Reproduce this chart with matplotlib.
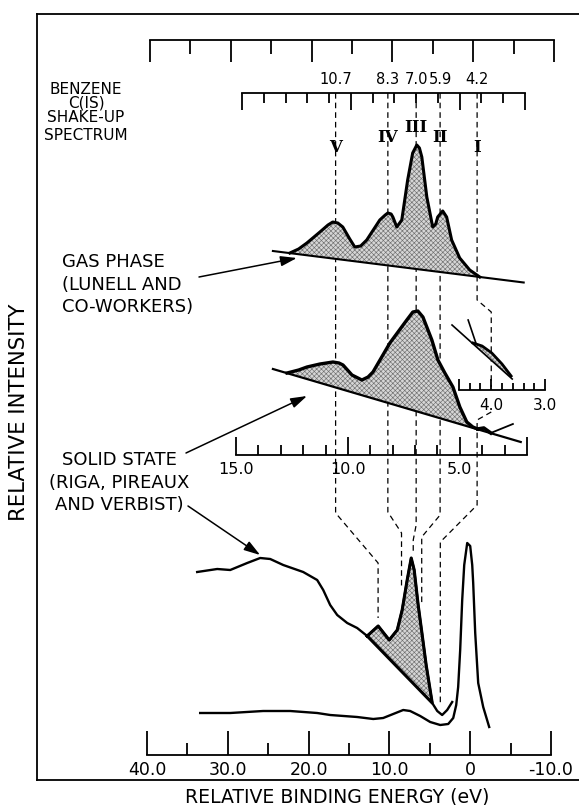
"""Benzene C(1s) shake-up spectrum: gas phase vs solid state (schematic redraw)."""

import matplotlib

matplotlib.use("Agg")

import matplotlib.pyplot as plt
import numpy as np

W, H = 579, 805

# shake-up satellites (eV)
FEATURE_EV = [10.7, 8.3, 7.0, 5.9, 4.2]
FEATURE_LABELS = ["10.7", "8.3", "7.0", "5.9", "4.2"]
FEATURE_NUMERALS = ["V", "IV", "III", "II", "I"]
# where each satellite lands on the solid-state survey spectrum (eV)
BULK_MARK_EV = [11.4, 8.5, 7.05, 6.0, 3.7]

# gas phase (Lunell and co-workers)
GAS_EV = [12.80, 12.40, 12.02, 11.42, 11.05, 10.83, 10.60, 10.37, 10.05, 9.82, 9.55, 9.27,
          8.67, 8.42, 8.30, 8.15, 8.07, 7.89, 7.66, 7.39, 7.16, 6.97, 6.85, 6.74, 6.51,
          6.24, 6.10, 6.01, 5.78, 5.60, 5.37, 5.00, 4.54, 4.08]
GAS_INT = [47, 51, 57, 68, 75, 78, 77, 73, 61, 53, 54, 60,
           80, 85, 87, 86, 83, 73, 80, 120, 147, 155, 152, 143, 103,
           73, 76, 83, 89, 83, 60, 42, 30, 23]
GAS_BASE_EV = [13.58, 2.06]
GAS_BASE_INT = [49, 17.5]

# solid state shake-up (Riga, Pireaux and Verbist)
SOLID_EV = [12.72, 12.20, 11.83, 11.25, 10.67, 10.40, 10.22, 9.82, 9.375, 9.10, 8.88, 8.125,
            7.37, 7.10, 6.875, 6.65, 6.25, 5.98, 5.67, 5.31, 5.00, 4.69, 4.42, 4.20]
SOLID_INT = [82, 85, 88, 91, 93, 92, 90, 80, 75, 78, 83, 112,
             135, 143, 144, 138, 115, 95, 82, 68, 48, 33, 28, 26]
SOLID_BASE_EV = [13.35, 2.28]
SOLID_BASE_INT = [86, 13]
SOLID_TAIL_EV = [4.20, 3.93, 3.62, 2.63]
SOLID_TAIL_INT = [26, 27, 22, 31]

# magnified region near 4 eV
INSET_BASE_EV = [4.73, 3.61]
INSET_BASE_INT = [65, 11]
INSET_STEEP_EV = [4.43, 4.28]
INSET_STEEP_INT = [70, 46]
INSET_PEAK_EV = [4.34, 4.17, 3.99, 3.80, 3.63]
INSET_PEAK_INT = [47, 44, 37, 26, 14]
INSET_PEAK_BASE_EV = [3.63, 4.34]
INSET_PEAK_BASE_INT = [12, 46]

# solid state survey spectrum, upper trace
BULK_EV = [33.79, 31.31, 29.70, 27.60, 25.99, 24.75, 23.14, 20.67, 18.94, 18.19, 17.33, 16.46,
           15.22, 13.99, 12.75, 11.39, 10.02, 9.03, 8.42, 7.80, 7.30, 6.93, 6.44, 5.94,
           5.45, 4.70, 4.08, 3.47, 2.85, 2.23]
BULK_INT = [183, 186, 185, 192, 197, 196, 190, 183, 175, 165, 150, 140,
            132, 127, 119, 129, 115, 125, 145, 175, 197, 185, 150, 120,
            90, 52, 44, 40, 45, 53]
BULK_SHADE = (14, 25)  # index range of the shaded shake-up part

# lower trace with the C(1s) main line
BULK_LOW_EV = [33.42, 29.70, 25.62, 22.28, 18.94, 17.33, 13.99, 12.00, 10.77, 9.53, 8.29, 7.43,
               6.19, 4.95, 3.71, 2.72, 2.10, 1.73, 1.49, 1.24, 0.99, 0.74, 0.37, 0.0,
               -0.25, -0.37, -0.62, -0.99, -1.61, -2.35]
BULK_LOW_INT = [42, 42, 44, 44, 42, 40, 38, 36, 37, 41, 45, 44,
                39, 33, 30, 31, 37, 50, 68, 105, 155, 190, 212, 209,
                190, 172, 122, 72, 48, 28]

TOP_SCALE = np.arange(0, 11)

plt.rcParams["font.family"] = ["DejaVu Sans"]
plt.rcParams["hatch.linewidth"] = 0.45
plt.rcParams["hatch.color"] = "#707070"

LW = 1.3
SHADE = dict(facecolor="#d6d6d6", hatch="xxxxxxx", edgecolor="#707070", linewidth=0, zorder=2)
DASH = dict(color="black", lw=0.9, linestyle=(0, (4.5, 3.2)), zorder=1)

fig = plt.figure(figsize=(W / 100, H / 100), dpi=100)


def box(x0, y0, x1, y1):
    return [x0 / W, 1 - y1 / H, (x1 - x0) / W, (y1 - y0) / H]


def scale_axes(rect, side, lim, ylim=(0, 1), z=3):
    ax = fig.add_axes(rect, zorder=z)
    ax.set_facecolor("none")
    for name, sp in ax.spines.items():
        sp.set_visible(name == side)
        sp.set_linewidth(LW)
    ax.set_xlim(*lim)
    ax.set_ylim(*ylim)
    ax.yaxis.set_visible(False)
    if side == "top":
        ax.xaxis.tick_top()
    ax.tick_params(axis="x", which="both", direction="in", width=LW)
    return ax


# overlay in pixel space for connectors and labels
ov = fig.add_axes([0, 0, 1, 1], zorder=0)
ov.set_xlim(0, W)
ov.set_ylim(H, 0)
ov.axis("off")


def xpx(ax, x):
    return ov.transData.inverted().transform(ax.transData.transform((x, 0)))[0]


def to_ov(ax, x, y):
    return ov.transData.inverted().transform(ax.transData.transform((x, y)))


frame = fig.add_axes(box(37, 14, 660, 780), zorder=1)
frame.set_facecolor("none")
frame.set_xticks([])
frame.set_yticks([])
for sp in frame.spines.values():
    sp.set_linewidth(LW)

# top unlabelled scale
top = scale_axes(box(150, 40, 554, 80), "top", (TOP_SCALE[0], TOP_SCALE[-1]))
top.set_xticks(TOP_SCALE[::2], [""] * len(TOP_SCALE[::2]))
top.set_xticks(TOP_SCALE[1::2], minor=True)
top.tick_params(axis="x", which="major", length=16)
top.tick_params(axis="x", which="minor", length=10)

# gas phase panel with the labelled scale on top
gas = scale_axes(box(242, 93, 525, 300), "top", (15, 2), (0, 207))
gas.set_xticks([15, 10, 5, 2], [""] * 4)
gas.set_xticks(np.arange(2, 16), minor=True)
gas.tick_params(axis="x", which="major", length=12)
gas.tick_params(axis="x", which="minor", length=7)
sec = gas.secondary_xaxis("top")
sec.set_xticks(FEATURE_EV, FEATURE_LABELS)
sec.tick_params(length=0, pad=4, labelsize=10.5)
sec.spines["top"].set_visible(False)
gas.fill(GAS_EV, GAS_INT, **SHADE)
gas.plot(GAS_EV, GAS_INT, color="black", lw=2.2, solid_joinstyle="round", zorder=4, clip_on=False)
gas.plot(GAS_BASE_EV, GAS_BASE_INT, color="black", lw=1.5, zorder=4, clip_on=False)
for ev, num, py in zip(FEATURE_EV, FEATURE_NUMERALS, [147, 137, 127, 137, 147]):
    gas.text(ev, 300 - py, num, ha="center", va="center", fontsize=12, fontweight="bold",
             family="DejaVu Serif", zorder=5)

# solid state shake-up panel
solid = scale_axes(box(236, 300, 527, 455), "bottom", (15, 2), (0, 155))
solid.set_xticks([15, 10, 5, 2], ["15.0", "10.0", "5.0", ""])
solid.set_xticks(np.arange(2, 16), minor=True)
solid.tick_params(axis="x", which="major", length=13, pad=5, labelsize=11.5)
solid.tick_params(axis="x", which="minor", length=7)
solid.fill(SOLID_EV, SOLID_INT, **SHADE)
solid.plot(SOLID_EV, SOLID_INT, color="black", lw=2.4, solid_joinstyle="round", zorder=4, clip_on=False)
solid.plot(SOLID_BASE_EV, SOLID_BASE_INT, color="black", lw=1.6, zorder=4, clip_on=False)
solid.plot(SOLID_TAIL_EV[:3], SOLID_TAIL_INT[:3], color="black", lw=2.6, zorder=4, clip_on=False)
solid.plot(SOLID_TAIL_EV[2:], SOLID_TAIL_INT[2:], color="black", lw=1.3, zorder=4, clip_on=False)

# inset near 4 eV
inset = scale_axes(box(459, 340, 545, 390), "bottom", (4.6, 3.0), (0, 50))
inset.set_xticks([4.6, 4.0, 3.0], ["", "4.0", "3.0"])
inset.set_xticks(np.arange(3.2, 4.6, 0.2), minor=True)
inset.tick_params(axis="x", which="major", length=8, pad=6, labelsize=11)
inset.tick_params(axis="x", which="minor", length=5)
inset.plot(INSET_BASE_EV, INSET_BASE_INT, color="black", lw=1.2, zorder=4, clip_on=False)
inset.plot(INSET_STEEP_EV, INSET_STEEP_INT, color="black", lw=1.2, zorder=4, clip_on=False)
inset.fill(INSET_PEAK_EV + INSET_PEAK_BASE_EV, INSET_PEAK_INT + INSET_PEAK_BASE_INT,
           clip_on=False, **SHADE)
inset.plot(INSET_PEAK_EV, INSET_PEAK_INT, color="black", lw=2.0, zorder=4, clip_on=False)

# solid state survey spectrum
bulk = scale_axes(box(147, 530, 551, 755), "bottom", (40, -10), (0, 225))
bulk.set_xticks([40, 30, 20, 10, 0, -10], ["40.0", "30.0", "20.0", "10.0", "0", "-10.0"])
bulk.set_xticks([35, 25, 15, 5, -5], minor=True)
bulk.tick_params(axis="x", which="major", length=17, pad=4, labelsize=12.5)
bulk.tick_params(axis="x", which="minor", length=9)
i0, i1 = BULK_SHADE
bulk.fill(BULK_EV[i0:i1 + 1], BULK_INT[i0:i1 + 1], **SHADE)
bulk.plot(BULK_EV, BULK_INT, color="black", lw=1.7, zorder=4, clip_on=False)
bulk.plot(BULK_EV[i0:i1 + 1] + [BULK_EV[i0]], BULK_INT[i0:i1 + 1] + [BULK_INT[i0]],
          color="black", lw=2.2, zorder=4, clip_on=False)
bulk.plot(BULK_LOW_EV, BULK_LOW_INT, color="black", lw=1.7, zorder=4, clip_on=False)

# dashed correlation lines
kinks = [(513, 563, 618), (512, 533, 587), (525, 540, 553), (515, 537, 603)]
for ev, bev, (ya, yb, yc) in zip(FEATURE_EV[:4], BULK_MARK_EV[:4], kinks):
    xt, xb = xpx(gas, ev), xpx(bulk, bev)
    ov.plot([xt, xt, xb, xb], [93, ya, yb, yc], **DASH)
xt, xb, xi = xpx(gas, FEATURE_EV[4]), xpx(bulk, BULK_MARK_EV[4]), xpx(inset, 4.0)
ov.plot([xt, xt, xi, xi], [93, 300, 312, 387], **DASH)
ov.plot([xi, xt, xt, xb, xb], [412, 420, 505, 542, 703], **DASH)

# labels
TXT = dict(fontsize=13, color="black")
fig.text(337 / W, 1 - 797 / H, "RELATIVE BINDING ENERGY (eV)", ha="center", va="center",
         fontsize=13.6)
fig.text(19 / W, 1 - 412 / H, "RELATIVE INTENSITY", rotation=90, ha="center", va="center",
         fontsize=15.2)
for text, py in zip(["BENZENE", "C(IS)", "SHAKE-UP", "SPECTRUM"], [89, 103, 118, 135]):
    fig.text(86 / W, 1 - py / H, text, ha="center", va="center", fontsize=11)
for text, py in zip(["GAS PHASE", "(LUNELL AND", "CO-WORKERS)"], [262, 285, 307]):
    fig.text(62 / W, 1 - py / H, text, ha="left", va="center", **TXT)
for text, py in zip(["SOLID STATE", "(RIGA, PIREAUX", "AND VERBIST)"], [460, 483, 505]):
    fig.text(119 / W, 1 - py / H, text, ha="center", va="center", **TXT)

ARROW = dict(arrowstyle="-|>,head_length=0.7,head_width=0.22", color="black", lw=1.1,
             mutation_scale=14, shrinkA=0, shrinkB=0)
ov.annotate("", xy=to_ov(gas, 12.48, 42), xytext=(199, 277), arrowprops=ARROW)
ov.annotate("", xy=to_ov(solid, 11.83, 59), xytext=(186, 453), arrowprops=ARROW)
ov.annotate("", xy=to_ov(bulk, 26.0, 200), xytext=(188, 506), arrowprops=ARROW)

fig.savefig("out.png", dpi=100)
